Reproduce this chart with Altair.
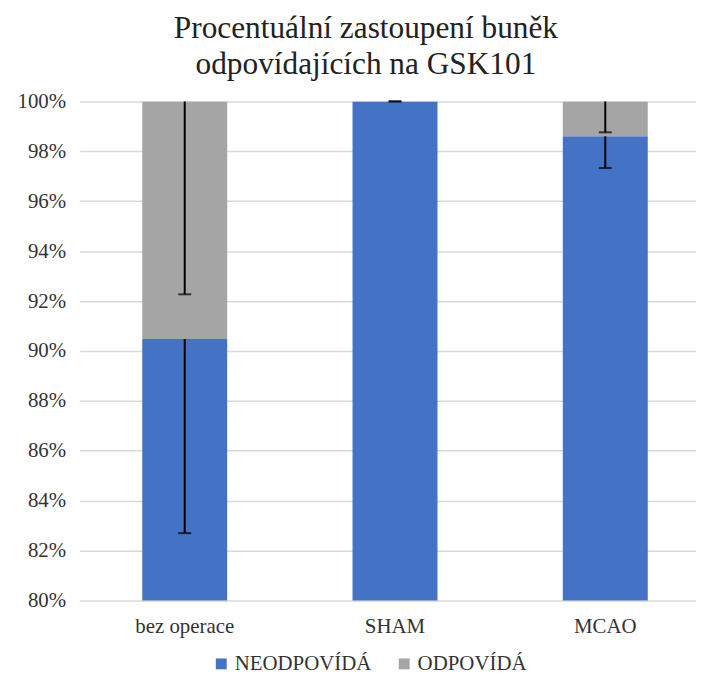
import altair as alt
import pandas as pd

categories = ["bez operace", "SHAM", "MCAO"]
series = ["NEODPOVÍDÁ", "ODPOVÍDÁ"]
neodpovida = [0.9048, 1.0, 0.986]
odpovida = [0.0952, 0.0, 0.014]
err_neodpovida = [0.0778, 0.0, 0.0127]
err_odpovida = [0.0773, 0.0, 0.0124]
colors = ["#4472C4", "#A5A5A5"]

rows = []
err_rows = []
for i, c in enumerate(categories):
    rows.append({"cat": c, "series": series[0], "value": neodpovida[i], "ord": 0})
    rows.append({"cat": c, "series": series[1], "value": odpovida[i], "ord": 1})
    top0 = neodpovida[i]
    top1 = neodpovida[i] + odpovida[i]
    err_rows.append({"cat": c, "low": top0 - err_neodpovida[i], "high": top0})
    err_rows.append({"cat": c, "low": top1 - err_odpovida[i], "high": top1})
df = pd.DataFrame(rows)
edf = pd.DataFrame(err_rows)

font = "Liberation Serif, Times New Roman, serif"
xscale = alt.Scale(paddingInner=0.596, paddingOuter=0.2637, align=0.565)
yscale = alt.Scale(domain=[0.8, 1.0])

bars = alt.Chart(df).mark_bar(clip=True).encode(
    x=alt.X("cat:N", sort=categories, scale=xscale, title=None,
            axis=alt.Axis(labelAngle=0, labelPadding=15)),
    y=alt.Y("value:Q", stack="zero", scale=yscale, title=None,
            axis=alt.Axis(format=".0%", values=[0.8 + 0.02 * k for k in range(11)],
                          labelPadding=14)),
    color=alt.Color("series:N", scale=alt.Scale(domain=series, range=colors),
                    legend=alt.Legend(title=None, orient="none", direction="horizontal",
                                      legendX=132, legendY=555,
                                      symbolType="square", symbolSize=120,
                                      columnPadding=22, symbolStrokeWidth=0,
                                      labelOffset=3)),
    order=alt.Order("ord:Q"),
)

stems = alt.Chart(edf).mark_rule(color="black", strokeWidth=2).encode(
    x=alt.X("cat:N", sort=categories, scale=xscale),
    y=alt.Y("low:Q", scale=yscale),
    y2="high:Q",
)
caps = alt.Chart(edf).mark_tick(color="black", thickness=2, size=13).encode(
    x=alt.X("cat:N", sort=categories, scale=xscale),
    y=alt.Y("low:Q", scale=yscale),
)

chart = alt.layer(bars, stems, caps).properties(
    width=620, height=502,
    title=alt.TitleParams(["Procentuální zastoupení buněk", "odpovídajících na GSK101"],
                          font=font, fontSize=31.5, fontWeight="normal",
                          color="#222222", anchor="middle", dx=-22, offset=10,
                          lineHeight=36),
    padding={"left": 72, "top": 92, "right": 0, "bottom": 75},
    autosize=alt.AutoSizeParams(type="none"),
).configure(font=font).configure_view(stroke=None).configure_axis(
    labelFont=font, labelFontSize=21, labelColor="#333333",
    ticks=False, domain=False,
).configure_axisY(gridColor="#D9D9D9", gridWidth=1.5).configure_axisX(grid=False).configure_legend(
    labelFont=font, labelFontSize=21, labelColor="#333333",
)

chart.save("out.html", embed_options={"renderer": "svg", "actions": False})
